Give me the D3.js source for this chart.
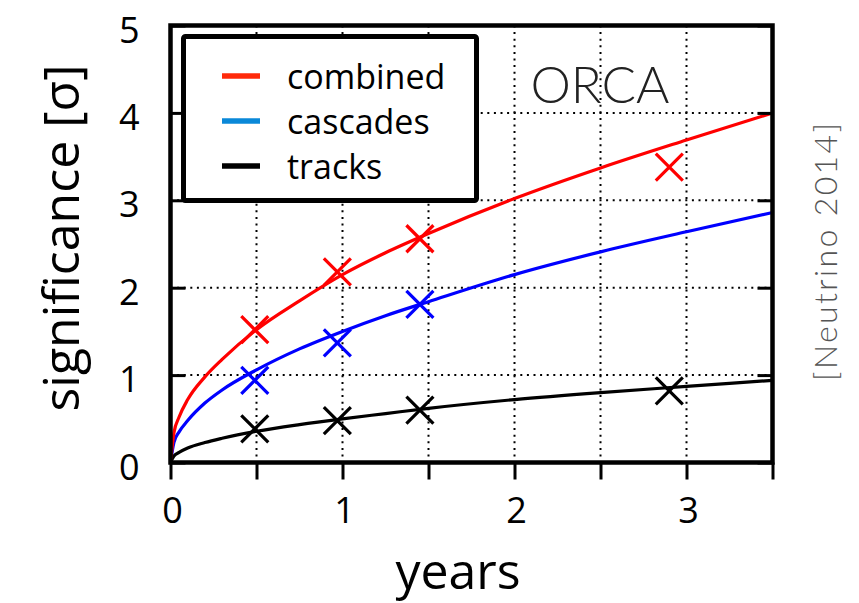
<!DOCTYPE html>
<html>
<head>
<meta charset="utf-8">
<script src="https://cdn.jsdelivr.net/npm/d3@7"></script>
<style>
  html, body { margin: 0; padding: 0; background: #fff; }
  svg { display: block; }
</style>
</head>
<body>
<svg id="chart" width="859" height="603"></svg>
<script>
// Sensitivity curves (significance vs. exposure time)
const years     = [0, 0.02, 0.05, 0.1, 0.2, 0.3, 0.5, 0.75, 1, 1.25, 1.5, 2, 2.5, 3, 3.5];
const combined  = [0, 0.34, 0.52, 0.72, 0.98, 1.18, 1.52, 1.85, 2.15, 2.40, 2.62, 3.02, 3.37, 3.69, 4.0];
const cascades  = [0, 0.23, 0.35, 0.48, 0.68, 0.83, 1.06, 1.30, 1.5, 1.68, 1.84, 2.15, 2.41, 2.64, 2.86];
const tracks    = [0, 0.075, 0.115, 0.165, 0.228, 0.277, 0.357, 0.434, 0.5, 0.56, 0.62, 0.72, 0.8, 0.87, 0.94];

// Simulated points (crosses)
const combinedPtsX = [0.49, 0.97, 1.45, 2.9];
const combinedPtsY = [1.52, 2.18, 2.56, 3.38];
const cascadesPtsX = [0.49, 0.97, 1.45];
const cascadesPtsY = [0.94, 1.37, 1.81];
const tracksPtsX   = [0.49, 0.97, 1.45, 2.9];
const tracksPtsY   = [0.385, 0.48, 0.60, 0.82];

// Axis ticks and grid
const xTicks = [0, 0.5, 1, 1.5, 2, 2.5, 3, 3.5];
const yTicks = [0, 1, 2, 3, 4, 5];
const xGrid  = [0.5, 1, 1.5, 2, 2.5, 3];
const yGrid  = [1, 2, 3, 4];

const legendLabels = ["combined", "cascades", "tracks"];
const legendColors = ["#ff2a0a", "#0a88d8", "#000000"];

const svg = d3.select("#chart");
const L = 170.5, R = 772.5, T = 25.5, B = 462.5;

const x = d3.scaleLinear().domain([0, 3.5]).range([L, R]);
const y = d3.scaleLinear().domain([0, 5]).range([B, T]);

const font = "'Open Sans', 'Noto Sans', sans-serif";

// grid: horizontal dotted lines
svg.append("g").attr("stroke", "#000").attr("stroke-width", 2)
  .attr("stroke-dasharray", "2,4.6")
  .selectAll("line").data(yGrid).join("line")
  .attr("x1", L).attr("x2", R).attr("y1", d => y(d)).attr("y2", d => y(d));

// white backing of the ORCA label
svg.append("rect").attr("x", 513).attr("y", T + 2).attr("width", 174).attr("height", 84)
  .attr("fill", "#fff");

// grid: vertical dotted lines
svg.append("g").attr("stroke", "#000").attr("stroke-width", 2)
  .attr("stroke-dasharray", "2,4.6")
  .selectAll("line").data(xGrid).join("line")
  .attr("x1", d => x(d)).attr("x2", d => x(d)).attr("y1", T).attr("y2", B);

// ORCA label
svg.append("text").attr("x", 600).attr("y", 102.5).attr("text-anchor", "middle")
  .attr("font-family", "Lato, 'Open Sans', sans-serif").attr("font-weight", 300)
  .attr("font-size", 51).attr("fill", "#222").text("ORCA");

// curves
const line = d3.line().x(d => x(d[0])).y(d => y(d[1])).curve(d3.curveMonotoneX);
const curves = [
  { vals: cascades, color: "#0000ff" },
  { vals: tracks,   color: "#000000" },
  { vals: combined, color: "#ff0000" }
];
curves.forEach(c => {
  svg.append("path").datum(years.map((t, i) => [t, c.vals[i]]))
    .attr("d", line).attr("fill", "none").attr("stroke", c.color)
    .attr("stroke-width", 3.2).attr("stroke-linejoin", "round");
});

// a plain X made of two strokes
const crossShape = {
  draw(ctx, size) {
    const h = Math.sqrt(size) / 2;
    ctx.moveTo(-h, -h); ctx.lineTo(h, h);
    ctx.moveTo(-h, h); ctx.lineTo(h, -h);
  }
};
const crossPath = d3.symbol().type(crossShape).size(27 * 27)();

const markerSets = [
  { xs: combinedPtsX, ys: combinedPtsY, color: "#ff0000" },
  { xs: cascadesPtsX, ys: cascadesPtsY, color: "#0000ff" },
  { xs: tracksPtsX,   ys: tracksPtsY,   color: "#000000" }
];
markerSets.forEach(m => {
  svg.append("g").selectAll("path").data(m.xs.map((v, i) => [v, m.ys[i]])).join("path")
    .attr("transform", d => `translate(${x(d[0])},${y(d[1])})`)
    .attr("d", crossPath)
    .attr("fill", "none").attr("stroke", m.color).attr("stroke-width", 3.2);
});

// bottom axis: outward ticks every half year, integer labels
const xAxis = svg.append("g").attr("transform", `translate(0,${B})`)
  .call(d3.axisBottom(x).tickValues(xTicks).tickSize(17)
    .tickFormat(d => Number.isInteger(d) ? d3.format("d")(d) : ""));
xAxis.select(".domain").remove();
xAxis.selectAll(".tick line").attr("stroke", "#000").attr("stroke-width", 3);
xAxis.selectAll(".tick text").attr("y", 60.5).attr("dy", 0).attr("dx", 1.5)
  .attr("font-family", font).attr("font-size", 36).attr("fill", "#000");

// left axis: inward ticks, labels outside
const yAxis = svg.append("g").attr("transform", `translate(${L},0)`)
  .call(d3.axisLeft(y).tickValues(yTicks).tickSize(-15).tickFormat(d3.format("d")));
yAxis.select(".domain").remove();
yAxis.selectAll(".tick line").attr("stroke", "#000").attr("stroke-width", 3);
yAxis.selectAll(".tick text").attr("x", -31).attr("y", 16.5).attr("dy", 0)
  .attr("font-family", font).attr("font-size", 36).attr("fill", "#000");

// right axis: inward ticks only
const yAxisR = svg.append("g").attr("transform", `translate(${R},0)`)
  .call(d3.axisRight(y).tickValues(yTicks).tickSize(-15).tickFormat(""));
yAxisR.select(".domain").remove();
yAxisR.selectAll(".tick line").attr("stroke", "#000").attr("stroke-width", 3);

// plot frame
svg.append("rect").attr("x", L).attr("y", T).attr("width", R - L).attr("height", B - T)
  .attr("fill", "none").attr("stroke", "#000").attr("stroke-width", 4.5);

// axis titles
svg.append("text").attr("transform", "translate(79,238) rotate(-90)")
  .attr("text-anchor", "middle").attr("font-family", font).attr("font-size", 50)
  .attr("fill", "#000").text("significance [σ]");

svg.append("text").attr("x", 458).attr("y", 589).attr("text-anchor", "middle")
  .attr("font-family", font).attr("font-size", 50).attr("fill", "#000").text("years");

// source note on the right
svg.append("text").attr("transform", "translate(837,252) rotate(-90)")
  .attr("text-anchor", "middle").attr("font-family", "Lato, 'Open Sans', sans-serif")
  .attr("font-weight", 300).attr("font-size", 32).attr("fill", "#555")
  .attr("textLength", 258).attr("lengthAdjust", "spacing")
  .text("[Neutrino 2014]");

// legend
const leg = svg.append("g");
leg.append("rect").attr("x", 183.5).attr("y", 36.5).attr("width", 293).attr("height", 164)
  .attr("rx", 2).attr("fill", "#fff").attr("stroke", "#000").attr("stroke-width", 5);
const rows = leg.selectAll("g.row").data(legendLabels).join("g")
  .attr("transform", (d, i) => `translate(0,${76 + i * 45})`);
rows.append("line").attr("x1", 222).attr("x2", 260).attr("y1", 0).attr("y2", 0)
  .attr("stroke", (d, i) => legendColors[i]).attr("stroke-width", 5.5);
rows.append("text").attr("x", 287).attr("y", 12.5)
  .attr("font-family", font).attr("font-size", 34).attr("fill", "#000").text(d => d);
</script>
</body>
</html>
